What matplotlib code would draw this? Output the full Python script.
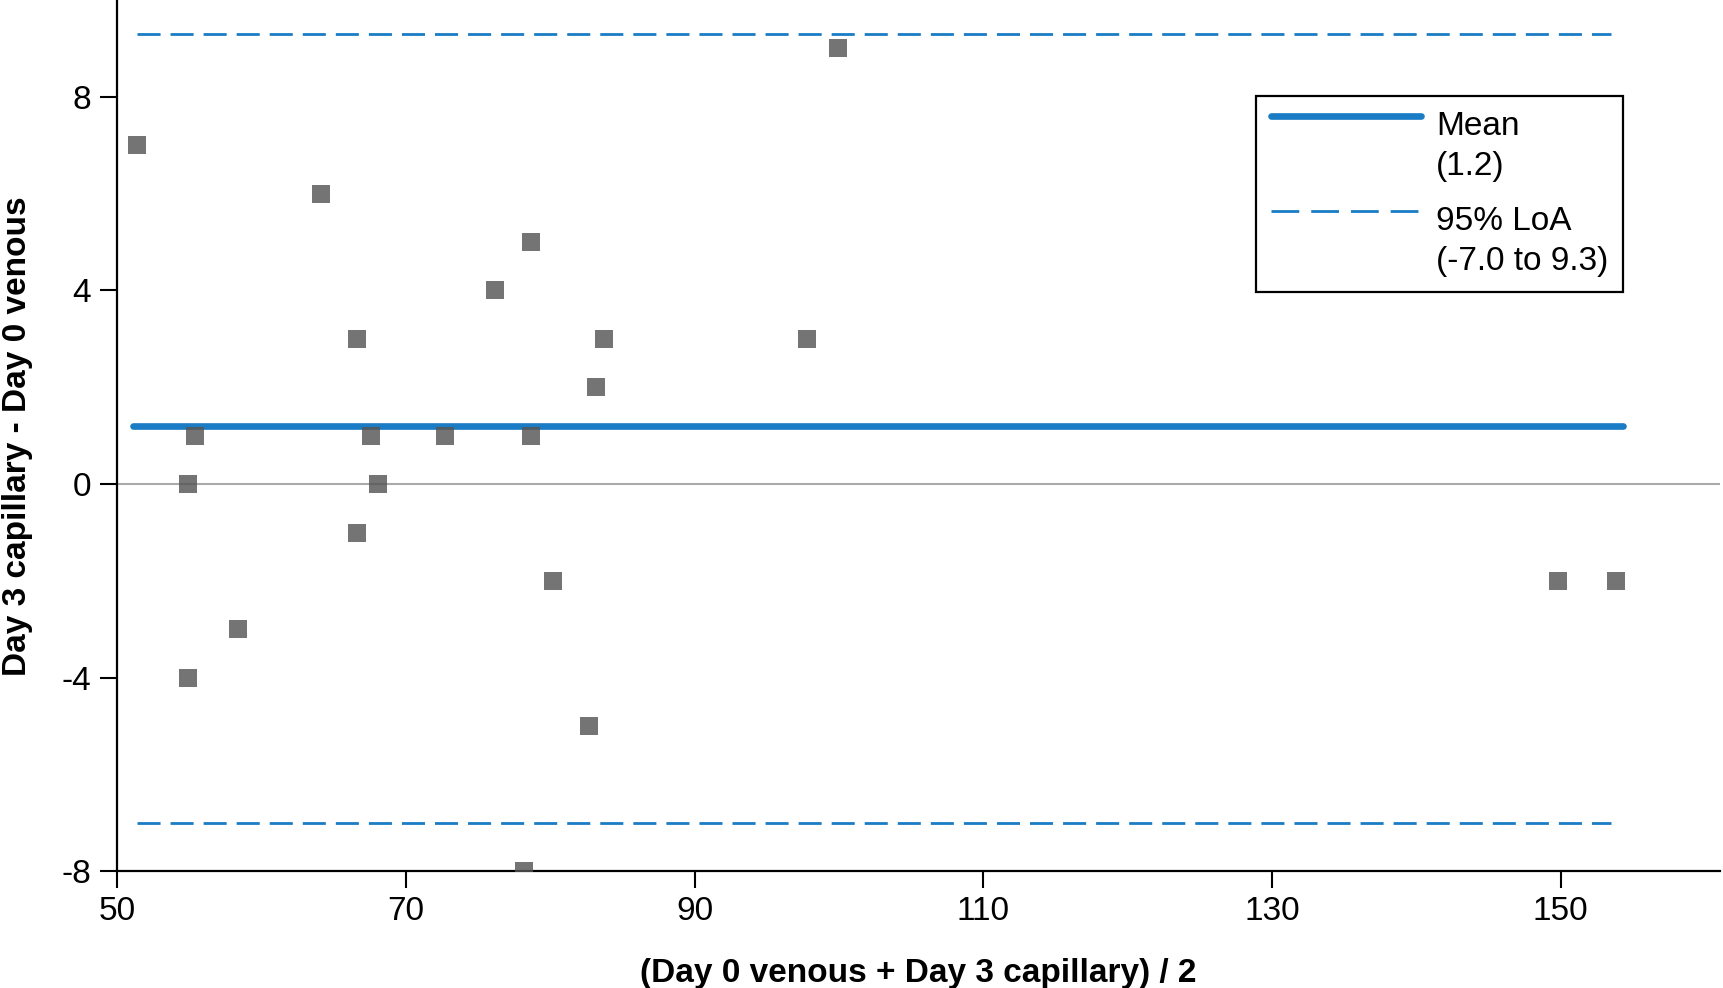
import matplotlib
matplotlib.use("Agg")
import matplotlib.pyplot as plt
from matplotlib.lines import Line2D

plt.rcParams['font.family'] = ['Liberation Sans', 'DejaVu Sans']
plt.rcParams['axes.unicode_minus'] = False

# paired means (x) and differences (y)
mean_vals = [51.4, 64.1, 99.9, 78.7, 76.2, 66.6, 83.7, 97.8, 83.2, 55.4, 67.6,
             72.7, 78.7, 54.9, 68.1, 66.6, 58.4, 54.9, 80.2, 82.7, 78.2, 149.8, 153.8]
diff_vals = [7, 6, 9, 5, 4, 3, 3, 3, 2, 1, 1,
             1, 1, 0, 0, -1, -3, -4, -2, -5, -8, -2, -2]

bias = 1.2
loa_low = -7.0
loa_high = 9.3

x_ticks = [50, 70, 90, 110, 130, 150]
y_ticks = [-8, -4, 0, 4, 8]

blue = '#1a7cc4'

fig = plt.figure(figsize=(17.23, 9.88), dpi=100)
ax = fig.add_axes([0.068, 0.118, 0.93, 0.882])

ax.axhline(0, color='#aaaaaa', lw=1.5, zorder=1)

x0, x1 = min(mean_vals), max(mean_vals)
ax.plot([x0 - 0.3, x1 + 0.5], [bias, bias], color=blue, lw=4.8,
        solid_capstyle='round', zorder=2)
for lv in (loa_low, loa_high):
    ax.plot([x0, x1 - 0.3], [lv, lv], color=blue, lw=2,
            dashes=(8.3, 3.6), zorder=2)

ax.scatter(mean_vals, diff_vals, marker='s', s=185, color='#555555',
           alpha=0.82, linewidths=0, zorder=3)

ax.set_xlim(50, 161)
ax.set_ylim(-8, 10)
ax.set_xticks(x_ticks)
ax.set_yticks(y_ticks)
ax.tick_params(labelsize=24, length=12, width=1.5)
ax.tick_params(axis='x', pad=6)
ax.tick_params(axis='y', pad=7)

for side in ('top', 'right'):
    ax.spines[side].set_visible(False)
for side in ('left', 'bottom'):
    ax.spines[side].set_linewidth(1.6)

ax.set_xlabel('(Day 0 venous + Day 3 capillary) / 2', fontsize=24,
              fontweight='bold', labelpad=22)
ax.set_ylabel('Day 3 capillary - Day 0 venous', fontsize=24,
              fontweight='bold', labelpad=20)

handles = [Line2D([], [], color=blue, lw=4.8, solid_capstyle='round'),
           Line2D([], [], color=blue, lw=2, dashes=(10, 4.3))]
labels = ['Mean\n(1.2)', '95% LoA\n(-7.0 to 9.3)']
leg = ax.legend(handles, labels, loc='upper left',
                bbox_to_anchor=(0.729, 0.903), bbox_transform=fig.transFigure,
                fontsize=24, handlelength=4.5, handletextpad=0.45,
                labelspacing=0.7, borderpad=0.45, borderaxespad=0,
                fancybox=False, framealpha=1, edgecolor='black')
leg.get_frame().set_linewidth(1.6)
for t in leg.get_texts():
    t.set_linespacing(1.4)
# put each handle level with the first line of its label
for ln in leg.get_lines():
    ln.set_ydata([y + 22 for y in ln.get_ydata()])

fig.savefig('out.png', dpi=100)
